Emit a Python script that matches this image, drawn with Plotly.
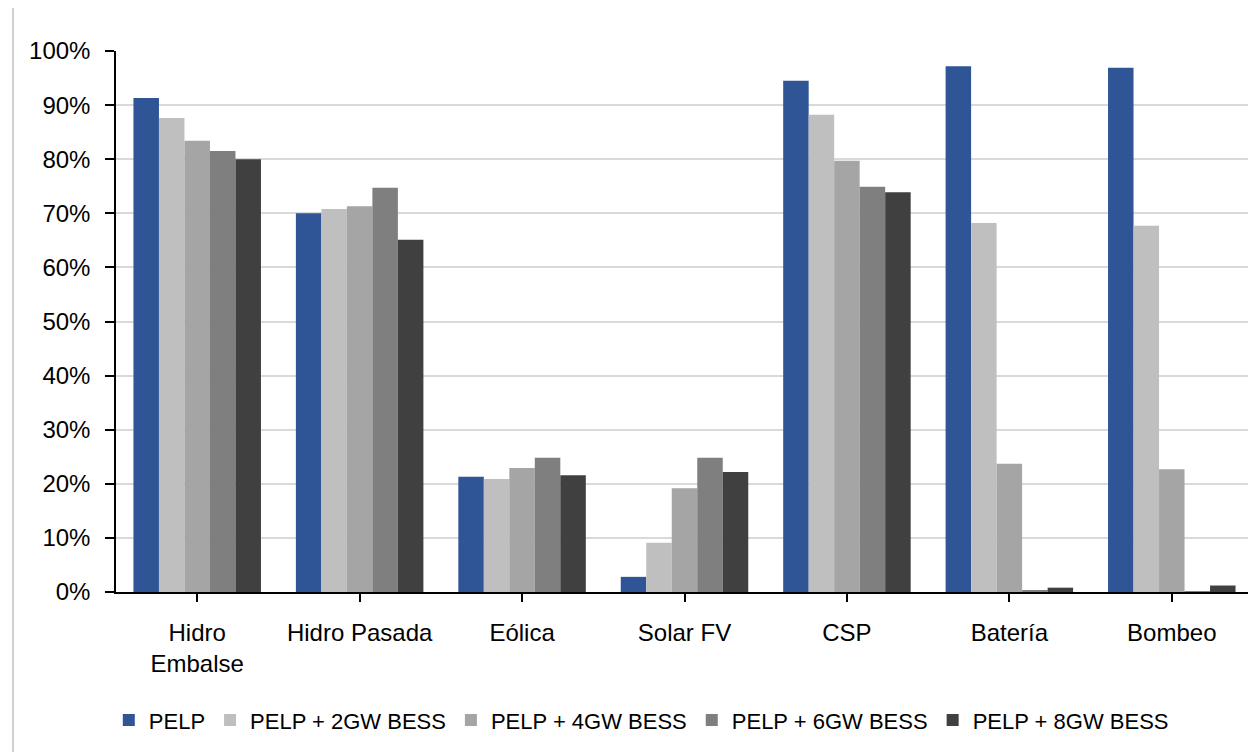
import plotly.graph_objects as go

# Chart values
categories = ["Hidro<br>Embalse", "Hidro Pasada", "Eólica", "Solar FV", "CSP", "Batería", "Bombeo"]

pelp = [91.3, 70.0, 21.3, 2.8, 94.5, 97.2, 96.9]
pelp_2gw = [87.6, 70.8, 20.9, 9.1, 88.2, 68.2, 67.7]
pelp_4gw = [83.4, 71.3, 22.9, 19.2, 79.7, 23.7, 22.7]
pelp_6gw = [81.5, 74.7, 24.8, 24.8, 74.9, 0.3, 0.1]
pelp_8gw = [80.0, 65.1, 21.6, 22.2, 73.9, 0.8, 1.2]

series_names = ["PELP", "PELP + 2GW BESS", "PELP + 4GW BESS", "PELP + 6GW BESS", "PELP + 8GW BESS"]
series_values = [pelp, pelp_2gw, pelp_4gw, pelp_6gw, pelp_8gw]
colors = ["#2F5597", "#BFBFBF", "#A5A5A5", "#7F7F7F", "#404040"]

font_family = "Liberation Sans, Arial, sans-serif"

fig = go.Figure()
for name, vals, col in zip(series_names, series_values, colors):
    fig.add_trace(go.Bar(
        x=categories,
        y=[v / 100 for v in vals],
        name=name,
        marker=dict(color=col, line=dict(width=0)),
    ))

# the html page adds an 8px body margin, so the figure is 8px smaller each way
fig.update_layout(
    width=1248,
    height=744,
    barmode="group",
    bargap=0.215,
    bargroupgap=0,
    plot_bgcolor="white",
    paper_bgcolor="white",
    margin=dict(l=108, r=3, t=43, b=160),
    font=dict(family=font_family, size=24, color="black"),
    showlegend=True,
    legend=dict(
        orientation="h",
        x=0.462, xanchor="center",
        y=-0.237, yanchor="middle",
        font=dict(size=22),
        itemwidth=30,
        traceorder="normal",
    ),
)

fig.update_xaxes(
    type="category",
    showline=True, linecolor="black", linewidth=1.5,
    ticks="outside", ticklen=8, tickcolor="black", tickwidth=1.5,
    ticklabelstandoff=10,
    showgrid=False,
)

fig.update_yaxes(
    range=[0, 1.0],
    tickvals=[i / 10 for i in range(11)],
    tickformat=".0%",
    showline=True, linecolor="black", linewidth=1.5,
    ticks="outside", ticklen=9, tickcolor="black", tickwidth=1.5,
    ticklabelstandoff=10,
    showgrid=True, gridcolor="#D9D9D9", gridwidth=2,
    zeroline=False,
)

# light frame line at the left edge and closing tick at the right end of the x axis
fig.add_shape(type="line", xref="paper", yref="paper",
              x0=-0.0906, x1=-0.0906, y0=-0.32, y1=1.1,
              line=dict(color="#D0D0D0", width=2))
fig.add_shape(type="line", xref="paper", yref="paper",
              x0=1, x1=1, y0=0, y1=-0.015,
              line=dict(color="black", width=1.5))

fig.write_html("out.html")
